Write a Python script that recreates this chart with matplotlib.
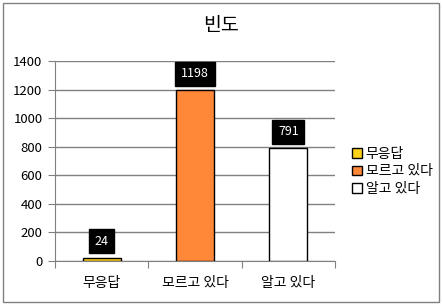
import matplotlib
matplotlib.use("Agg")
import matplotlib.pyplot as plt
from matplotlib.patches import Rectangle, Patch

plt.rcParams["font.family"] = ["Noto Sans CJK KR", "DejaVu Sans"]

categories = ["무응답", "모르고 있다", "알고 있다"]
counts = [24, 1198, 791]
colors = ["#FFD21A", "#FF8838", "#FFFFFF"]
yticks = [0, 200, 400, 600, 800, 1000, 1200, 1400]

fig = plt.figure(figsize=(4.42, 3.05), dpi=100)
fig.add_artist(Rectangle((3 / 442, 3 / 305), 436 / 442, 299 / 305, transform=fig.transFigure,
                         fill=False, edgecolor="#808080", lw=1))
ax = fig.add_axes([55 / 442, 1 - 261 / 305, 280 / 442, 200 / 305])

x = range(len(categories))
ax.bar(x, counts, width=0.41, color=colors, edgecolor="black", lw=1, zorder=3)
ax.set_xlim(-0.5, 2.5)
ax.set_ylim(0, 1400)
ax.set_yticks(yticks)
ax.set_yticklabels([str(t) for t in yticks], fontsize=9.5)
ax.yaxis.grid(True, color="#808080", lw=1)
ax.set_axisbelow(True)

ax.set_xticks([-0.5, 0.5, 1.5, 2.5])
ax.set_xticklabels([])
ax.set_xticks(list(x), minor=True)
ax.set_xticklabels(categories, minor=True, fontsize=10)
ax.tick_params(axis="x", which="minor", length=0, pad=11)
ax.tick_params(axis="x", which="major", length=5, direction="out", color="#808080")
ax.tick_params(axis="y", length=5, color="#808080", pad=4)

for s in ["top", "right"]:
    ax.spines[s].set_visible(False)
for s in ["left", "bottom"]:
    ax.spines[s].set_color("#808080")

for i, v in zip(x, counts):
    ax.annotate(str(v), xy=(i, v), xytext=(0, 7), textcoords="offset points",
                ha="center", va="bottom", color="white", fontsize=9,
                bbox=dict(boxstyle="square,pad=0.45", fc="black", ec="black"))

fig.text(221 / 442, 1 - 25 / 305, "빈도", fontsize=14, ha="center", va="center")

handles = [Patch(facecolor=c, edgecolor="black") for c in colors]
fig.legend(handles, categories, loc="upper left", bbox_to_anchor=(345 / 442, 1 - 140 / 305),
           frameon=False, fontsize=10, handlelength=0.7, handleheight=0.7,
           handletextpad=0.3, labelspacing=0.25, borderpad=0)

fig.savefig("out.png", dpi=100)
